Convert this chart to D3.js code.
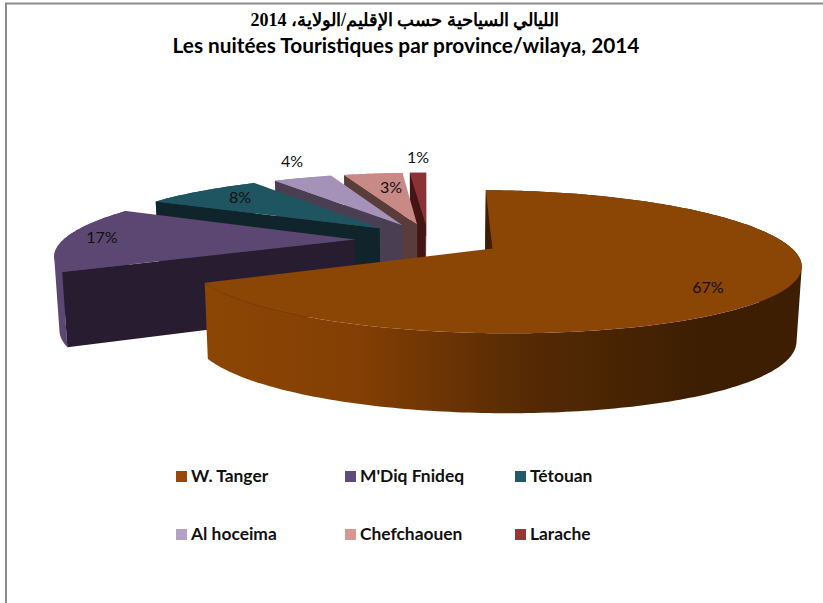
<!DOCTYPE html>
<html><head><meta charset="utf-8">
<style>html,body{margin:0;padding:0;background:#fff}svg{display:block}</style>
<script src="https://cdn.jsdelivr.net/npm/d3@7/dist/d3.min.js"></script></head>
<body><svg id="c" width="823" height="603"></svg>
<script>
const categories=["W. Tanger","M'Diq Fnideq","Tétouan","Al hoceima","Chefchaouen","Larache"];
const values=[67,17,8,4,3,1];
const legendColors=["#984807","#604A7B","#215968","#B3A2C7","#D99694","#953735"];
const topColors=["#8B4504","#5C4672","#1F5560","#A592B8","#C98A87","#8A3234"];
const wallColors=["#3D1E02","#281D30","#10252B","#4A3F52","#5A3C3A","#431615"];
const outerColors=["#3D1E02","#5C4672","#1F5560","#A592B8","#C98A87","#8A3234"];
const labelPos=[[708,288],[102,238],[240,198],[292,162],[391,188],[418,158]];
const titleAr="الليالي السياحية حسب الإقليم/الولاية، 2014";
const titleFr="Les nuitées Touristiques par province/wilaya, 2014";

const svg=d3.select("#c");
const Cx=428,Cy=240,rx=292,ry=66,kx=0.2,ky=0.18,explode=0.25;
// the 3-D view bends the pie's angles slightly
const warp=d3.scaleLinear().domain([0,241.2,302.4,331.2,345.6,356.4,360]).range([1,243,298,327,341.5,356,360]);
const rad=d=>d*Math.PI/180;
function project(u,v,z){
  const sx=1/(1+kx*v), sy=1/(1+ky*v);
  return [Cx+rx*u*sx*(z?0.986:1), Cy-ry*v*sy+(z?72-7*v:0)];
}
const arcs=d3.pie().sort(null).value(d=>d)(values);
const slices=arcs.map((a,i)=>{
  const a0=warp(a.startAngle*180/Math.PI),a1=warp(a.endAngle*180/Math.PI);
  const mid=(a.startAngle+a.endAngle)/2;
  return {i,a0,a1,ou:explode*Math.sin(mid),ov:explode*Math.cos(mid)};
});
const line=d3.line();
const pt=(s,a,r,z)=>project(s.ou+r*Math.sin(rad(a)),s.ov+r*Math.cos(rad(a)),z);
const defs=svg.append("defs");
const grad=defs.append("linearGradient").attr("id","brownWall").attr("gradientUnits","userSpaceOnUse")
  .attr("x1",207).attr("x2",700).attr("y1",0).attr("y2",0);
grad.append("stop").attr("offset",0).attr("stop-color","#8B4504");
grad.append("stop").attr("offset",0.3).attr("stop-color","#843F04");
grad.append("stop").attr("offset",0.65).attr("stop-color","#552A04");
grad.append("stop").attr("offset",1).attr("stop-color","#3D1E02");

// frame
svg.append("path").attr("d","M6,603V3.5H823").attr("fill","none").attr("stroke","#8c8c8c").attr("stroke-width",2);

// painter's order: back slices first
const g=svg.append("g");
slices.slice().reverse().forEach(s=>{
  const angs=d3.range(s.a0,s.a1,1).concat([s.a1]);
  const top=angs.map(a=>pt(s,a,1,false));
  const fill=s.i===0?"url(#brownWall)":outerColors[s.i];
  // curved wall: one path of same-wound strips, so it folds cleanly at the silhouette
  const strips=d3.pairs(angs).map(([p,q])=>{
    const c=[pt(s,p,1,false),pt(s,q,1,false),pt(s,q,1,true),pt(s,p,1,true)];
    return line(d3.polygonArea(c)<0?c.reverse():c)+"Z";
  }).join("");
  g.append("path").attr("d",strips).attr("fill",fill);
  const quad=a=>[pt(s,a,0,false),pt(s,a,1,false),pt(s,a,1,true),pt(s,a,0,true)];
  // a radial wall is painted only when it faces the viewer
  if(d3.polygonArea(quad(s.a1))<0) g.append("path").attr("d",line(quad(s.a1))+"Z").attr("fill",wallColors[s.i]);
  if(d3.polygonArea(quad(s.a0))>0) g.append("path").attr("d",line(quad(s.a0))+"Z").attr("fill",wallColors[s.i]);
  g.append("path").attr("d",line([pt(s,0,0,false)].concat(top))+"Z").attr("fill",topColors[s.i]);
});

// data labels
svg.append("g").selectAll("text").data(values).join("text")
  .attr("x",(d,i)=>labelPos[i][0]).attr("y",(d,i)=>labelPos[i][1]+5)
  .attr("text-anchor","middle").attr("font-family","Lato, 'Open Sans', sans-serif").attr("font-size",16)
  .attr("fill","#111").text(d=>d+"%");

// titles
svg.append("text").attr("x",405).attr("y",26).attr("text-anchor","middle").attr("direction","rtl")
  .attr("font-family","'Liberation Serif','DejaVu Serif',serif").attr("font-weight","bold").attr("font-size",18)
  .attr("fill","#000").text(titleAr);
svg.append("text").attr("x",406).attr("y",53).attr("text-anchor","middle")
  .attr("font-family","Lato, sans-serif").attr("font-weight","bold").attr("font-size",20.8)
  .attr("fill","#000").text(titleFr);

// legend
const legX=d3.scaleOrdinal().domain([0,1,2]).range([176,345,515]);
const legY=d3.scaleOrdinal().domain([0,1]).range([471,529]);
const leg=svg.append("g").selectAll("g").data(categories).join("g")
  .attr("transform",(d,i)=>`translate(${legX(i%3)},${legY(Math.floor(i/3))})`);
leg.append("rect").attr("width",11).attr("height",11).attr("fill",(d,i)=>legendColors[i]);
leg.append("text").attr("x",15).attr("y",11).attr("font-family","Lato, sans-serif").attr("font-weight","bold")
  .attr("font-size",17.4).attr("fill","#111").text(d=>d);
</script></body></html>
